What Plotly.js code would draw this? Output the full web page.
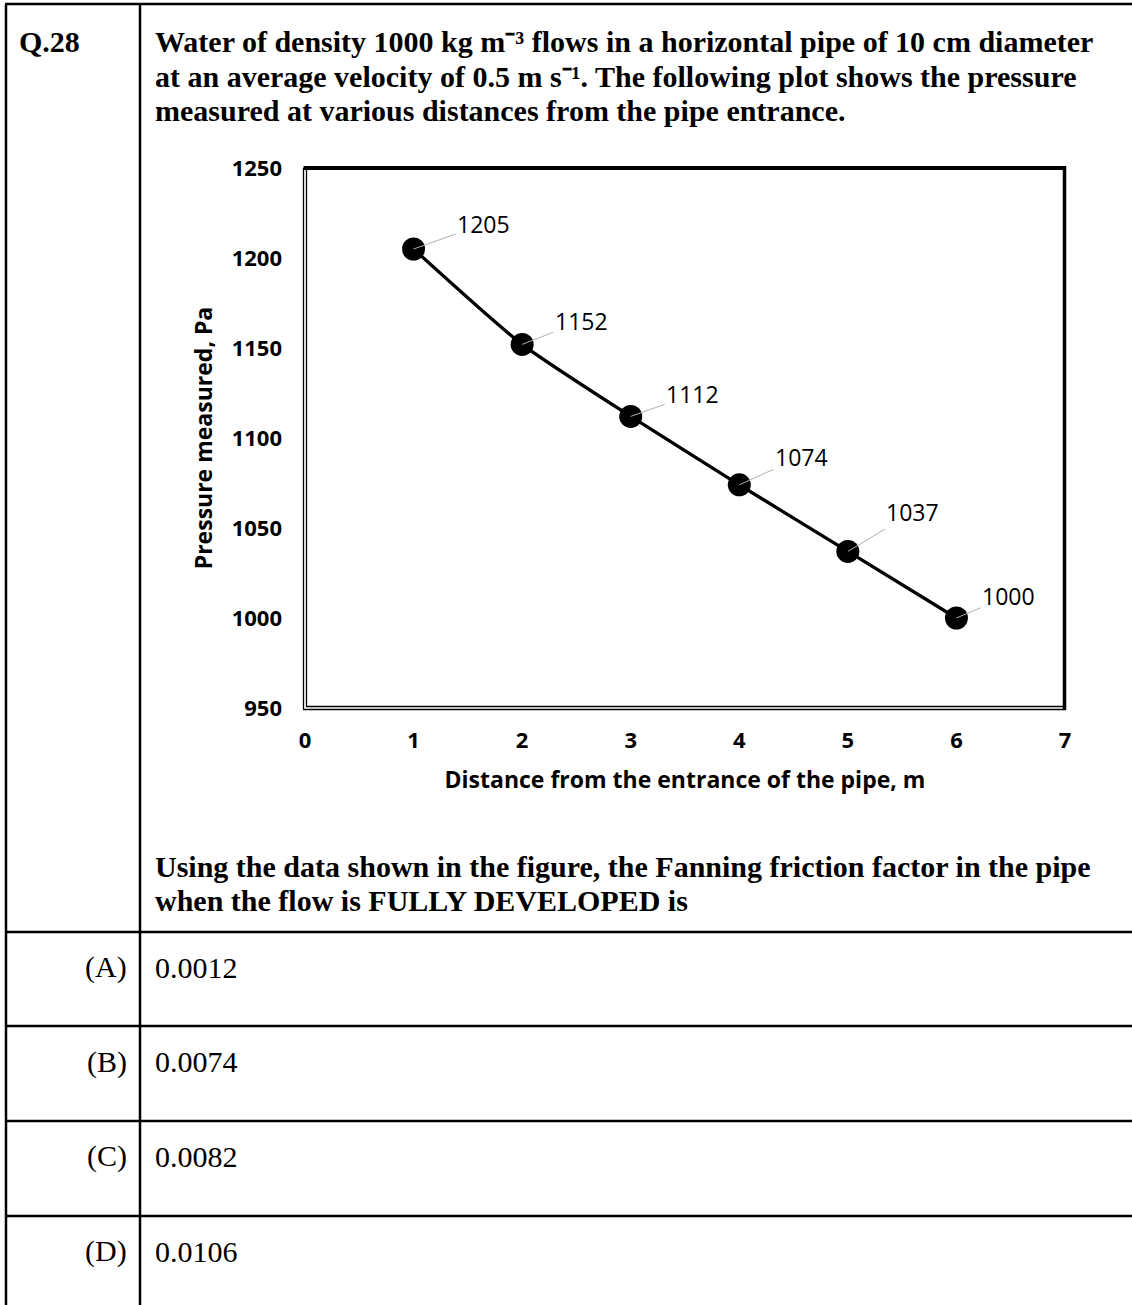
<!DOCTYPE html>
<html>
<head>
<meta charset="utf-8">
<script src="https://cdn.plot.ly/plotly-3.0.1.min.js"></script>
<style>html,body{margin:0;padding:0;background:#fff;}#chart{width:1132px;height:1305px;}</style>
</head>
<body>
<div id="chart"></div>
<script>
// ---- data ----
const distance = [1, 2, 3, 4, 5, 6];
const pressure = [1205, 1152, 1112, 1074, 1037, 1000];
const xTicks = [0, 1, 2, 3, 4, 5, 6, 7];
const yTicks = [950, 1000, 1050, 1100, 1150, 1200, 1250];
const xTitle = 'Distance from the entrance of the pipe, m';
const yTitle = 'Pressure measured, Pa';
const questionNo = 'Q.28';
const questionLines = [
  'Water of density 1000 kg m\u207B\u00B3 flows in a horizontal pipe of 10 cm diameter',
  'at an average velocity of 0.5 m s\u207B\u00B9. The following plot shows the pressure',
  'measured at various distances from the pipe entrance.'
];
const promptLines = [
  'Using the data shown in the figure, the Fanning friction factor in the pipe',
  'when the flow is FULLY DEVELOPED is'
];
const optionLetters = ['(A)', '(B)', '(C)', '(D)'];
const optionValues = ['0.0012', '0.0074', '0.0082', '0.0106'];

// ---- page geometry (pixels) ----
const W = 1132, H = 1305;
const L = 305, R = 1065, T = 168, B = 708;
const px = x => (x - L) / (R - L);
const py = y => (B - y) / (B - T);

// label offsets (px) for data labels
const labDx = [70, 59, 62, 62, 65, 52];
const labDy = [-25, -23, -22, -28, -39, -22];

const serif = 'Liberation Serif, Times New Roman, serif';
const sans = 'Open Sans, Lato, sans-serif';

const annotations = [];
annotations.push({xref:'paper', yref:'paper', x:px(17), y:py(42), xanchor:'left', yanchor:'middle',
  text:questionNo, showarrow:false, font:{family:serif, size:30, weight:'bold', color:'#000'}});
questionLines.forEach((t, i) => annotations.push({xref:'paper', yref:'paper', x:px(153), y:py(42 + 34*i),
  xanchor:'left', yanchor:'middle', text:t, showarrow:false,
  font:{family:serif, size:30, weight:'bold', color:'#000'}}));
promptLines.forEach((t, i) => annotations.push({xref:'paper', yref:'paper', x:px(153), y:py(866 + 34*i),
  xanchor:'left', yanchor:'middle', text:t, showarrow:false,
  font:{family:serif, size:30, weight:'bold', color:'#000'}}));
optionLetters.forEach((t, i) => {
  const yc = 967 + 94.7*i;
  annotations.push({xref:'paper', yref:'paper', x:px(129), y:py(yc), xanchor:'right', yanchor:'middle',
    text:t, showarrow:false, font:{family:serif, size:30, color:'#000'}});
  annotations.push({xref:'paper', yref:'paper', x:px(153), y:py(yc), xanchor:'left', yanchor:'middle',
    text:optionValues[i], showarrow:false, font:{family:serif, size:30, color:'#000'}});
});
// data labels
distance.forEach((d, i) => annotations.push({x:d, y:pressure[i], xref:'x', yref:'y',
  text:String(pressure[i]), showarrow:true, arrowhead:0, arrowwidth:1, arrowcolor:'#b0b0b0',
  ax:labDx[i], ay:labDy[i], standoff:0, borderpad:1,
  font:{family:sans, size:23, color:'#000'}}));

const line = (x0, y0, x1, y1, w, c) => ({type:'line', xref:'paper', yref:'paper',
  x0:px(x0), y0:py(y0), x1:px(x1), y1:py(y1), line:{color:c || '#000', width:w}});

const shapes = [
  // table
  line(5, 4, W, 4, 2.5),
  line(6, 4, 6, H, 2.5),
  line(140, 4, 140, H, 2.5),
  line(5, 932, W, 932, 2.5),
  line(5, 1026, W, 1026, 2.5),
  line(5, 1121, W, 1121, 2.5),
  line(5, 1216, W, 1216, 2.5),
  // chart frame
  line(303.5, 168, 1066, 168, 4),
  line(1064.5, 166, 1064.5, 709.5, 3.5),
  line(303.5, 168, 303.5, 709.5, 1.3),
  line(306.5, 170, 306.5, 706.5, 1.3),
  line(303, 709.5, 1066, 709.5, 1.3),
  line(306, 706.5, 1063, 706.5, 1.3)
];

const trace = {
  x: distance, y: pressure, type:'scatter', mode:'lines+markers',
  line:{color:'#000', width:3.3, shape:'spline', smoothing:0.6},
  marker:{color:'#000', size:23},
  cliponaxis:false, hoverinfo:'skip', showlegend:false
};

const layout = {
  width: W, height: H,
  margin:{l:L, r:W-R, t:T, b:H-B, pad:0},
  paper_bgcolor:'#fff', plot_bgcolor:'#fff',
  showlegend:false,
  xaxis:{range:[0,7], tickvals:xTicks, ticktext:xTicks.map(String), showgrid:false, zeroline:false,
    showline:false, ticks:'', ticklabelstandoff:17, automargin:false,
    tickfont:{family:sans, size:22, weight:'bold', color:'#000'},
    title:{text:xTitle, standoff:18, font:{family:sans, size:23, weight:'bold', color:'#000'}}},
  yaxis:{range:[950,1250], tickvals:yTicks, ticktext:yTicks.map(String), showgrid:false, zeroline:false,
    showline:false, ticks:'', ticklabelstandoff:22, automargin:false,
    tickfont:{family:sans, size:22, weight:'bold', color:'#000'},
    title:{text:yTitle, standoff:12, font:{family:sans, size:23, weight:'bold', color:'#000'}}},
  shapes: shapes,
  annotations: annotations
};

Plotly.newPlot('chart', [trace], layout, {staticPlot:true, displayModeBar:false});
</script>
</body>
</html>
